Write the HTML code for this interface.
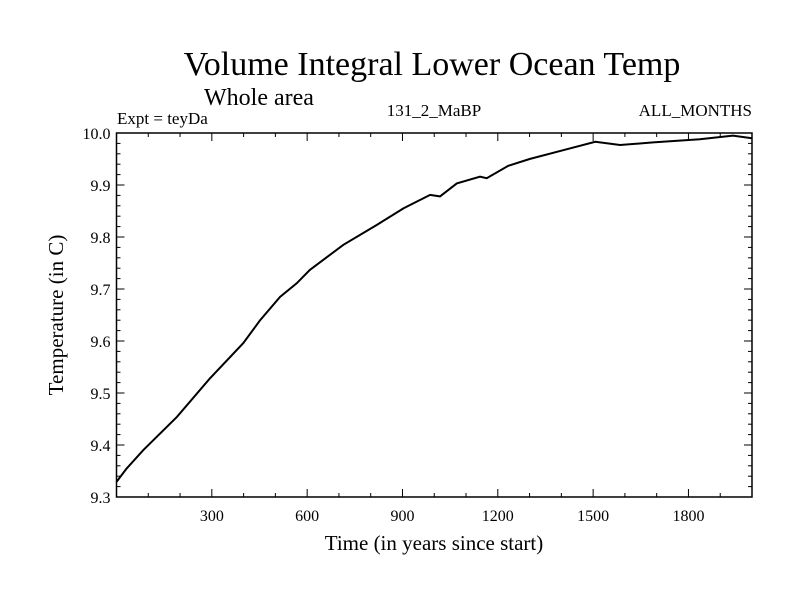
<!DOCTYPE html>
<html><head><meta charset="utf-8"><style>
body{margin:0;background:#fff;}
svg{display:block;font-family:"Liberation Serif",serif;}
</style></head><body>
<svg id="chart" width="800" height="600">
<rect width="800" height="600" fill="#fff"/>
<text x="432" y="75" font-size="34" text-anchor="middle">Volume Integral Lower Ocean Temp</text>
<text x="259" y="105" font-size="24" text-anchor="middle">Whole area</text>
<text x="117" y="124" font-size="17">Expt = teyDa</text>
<text x="434" y="116" font-size="17" text-anchor="middle">131_2_MaBP</text>
<text x="752" y="116" font-size="17" text-anchor="end">ALL_MONTHS</text>
<text x="434" y="550" font-size="21" text-anchor="middle">Time (in years since start)</text>
<text transform="translate(63,315) rotate(-90)" font-size="21" text-anchor="middle">Temperature (in C)</text>
<g id="axes"></g>
<path id="line" fill="none" stroke="#000" stroke-width="2"/>
</svg>
<script>
const years=[0,32,84,190,294,399,452,515,567,609,714,819,903,987,1018,1071,1144,1165,1233,1300,1400,1507,1585,1689,1836,1940,2000];
const temps=[9.329,9.355,9.390,9.454,9.528,9.596,9.640,9.685,9.711,9.737,9.785,9.823,9.855,9.881,9.878,9.903,9.916,9.913,9.937,9.950,9.966,9.983,9.977,9.982,9.988,9.995,9.990];
const xTicks=[300,600,900,1200,1500,1800];
const yTicks=[9.3,9.4,9.5,9.6,9.7,9.8,9.9,10.0];
const L=116.5,R=752,T=133,B=497,X0=0,X1=2000,Y0=9.3,Y1=10.0;
const sx=v=>L+(v-X0)/(X1-X0)*(R-L);
const sy=v=>B-(v-Y0)/(Y1-Y0)*(B-T);
const ns="http://www.w3.org/2000/svg";
const g=document.getElementById('axes');
function mk(tag,attrs){const e=document.createElementNS(ns,tag);for(const k in attrs)e.setAttribute(k,attrs[k]);g.appendChild(e);return e;}
const frame=mk('rect',{x:L,y:T,width:R-L,height:B-T,fill:'none',stroke:'#000','stroke-width':1.5});


for(let v=100;v<X1;v+=100){const major=v%300===0,len=major?8:4;
 const a=mk('line',{x1:sx(v),x2:sx(v),y1:B,y2:B-len,stroke:'#000'});
 
 
 const b=mk('line',{x1:sx(v),x2:sx(v),y1:T,y2:T+len,stroke:'#000'});
 
 }
xTicks.forEach(v=>{const t=mk('text',{x:sx(v),y:B+24,'font-size':16,'text-anchor':'middle'});t.textContent=v;
 
 });
for(let i=1;i<35;i++){const v=Y0+i*0.02,len=(i%5===0)?8:4;
 const a=mk('line',{x1:L,x2:L+len,y1:sy(v),y2:sy(v),stroke:'#000'});
 
 
 const b=mk('line',{x1:R,x2:R-len,y1:sy(v),y2:sy(v),stroke:'#000'});
 
 }
yTicks.forEach(v=>{const t=mk('text',{x:L-6,y:sy(v)+6,'font-size':16,'text-anchor':'end'});t.textContent=v.toFixed(1);
 
 });
document.getElementById('line').setAttribute('d',years.map((y,i)=>(i?'L':'M')+sx(y).toFixed(1)+','+sy(temps[i]).toFixed(1)).join(''));
</script>
</body></html>
